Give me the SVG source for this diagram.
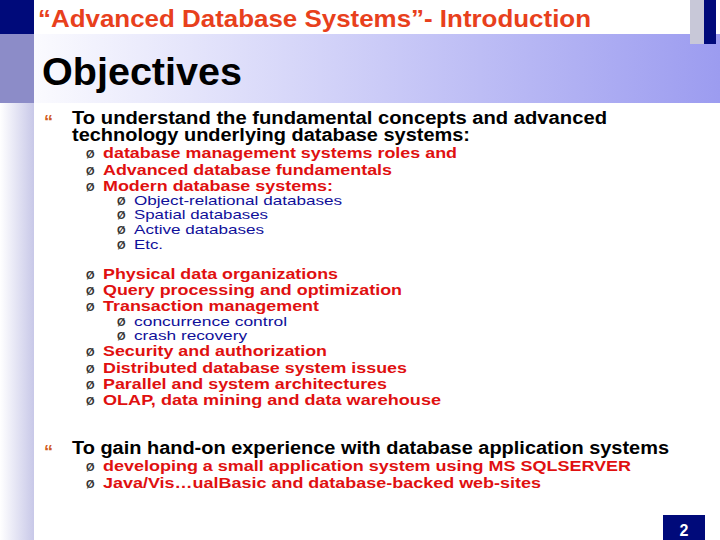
<svg xmlns="http://www.w3.org/2000/svg" width="720" height="540" viewBox="0 0 720 540">
<defs>
<linearGradient id="band" x1="0" x2="1" y1="0" y2="0"><stop offset="0" stop-color="#ffffff"/><stop offset="1" stop-color="#9c9cf0"/></linearGradient>
<linearGradient id="side" x1="0" x2="1" y1="0" y2="0"><stop offset="0" stop-color="#ffffff"/><stop offset="1" stop-color="#c8c8e8"/></linearGradient>
<style>
text{font-family:"Liberation Sans",Arial,sans-serif;font-weight:bold}
.t1{font-size:18px;fill:#000}
.r{font-size:15px;fill:#e01010}
.b{font-size:13px;fill:#10109a;font-weight:normal}
.q{font-size:18px;fill:#d05a20}
.bl{font-size:11px;fill:#333;font-weight:normal}
</style>
</defs>
<rect width="720" height="540" fill="#fff"/>
<rect x="0" y="0" width="34" height="540" fill="url(#side)"/>
<rect x="0" y="34" width="720" height="69" fill="url(#band)"/>
<rect x="0" y="0" width="34" height="34" fill="#000a7a"/>
<rect x="0" y="34" width="34" height="69" fill="#8c8cc8"/>
<rect x="690" y="0" width="14" height="44" fill="#c8c8d8"/>
<rect x="704" y="0" width="12" height="44" fill="#000a7a"/>
<g id="title"><text x="38" y="27" font-size="24" fill="#e8401c" textLength="553" lengthAdjust="spacingAndGlyphs">“Advanced Database Systems”- Introduction</text></g>
<g id="heading"><text x="42" y="85" font-size="38" fill="#000" textLength="200" lengthAdjust="spacingAndGlyphs">Objectives</text></g>
<g id="body">
<text class="q" x="44" y="128">“</text>
<text class="t1" x="72" y="124" textLength="535" lengthAdjust="spacingAndGlyphs">To understand the fundamental concepts  and advanced</text>
<text class="t1" x="72" y="141" textLength="398" lengthAdjust="spacingAndGlyphs">technology underlying database systems:</text>
<g class="bl"><text x="86" y="158">Ø</text><text x="86" y="175">Ø</text><text x="86" y="191">Ø</text>
<text x="117" y="205">Ø</text><text x="117" y="219">Ø</text><text x="117" y="234">Ø</text><text x="117" y="249">Ø</text>
<text x="86" y="279">Ø</text><text x="86" y="295">Ø</text><text x="86" y="311">Ø</text>
<text x="117" y="326">Ø</text><text x="117" y="340">Ø</text>
<text x="86" y="356">Ø</text><text x="86" y="373">Ø</text><text x="86" y="389">Ø</text><text x="86" y="405">Ø</text>
<text x="86" y="471">Ø</text><text x="86" y="488">Ø</text></g>
<text class="r" x="103" y="158" textLength="354" lengthAdjust="spacingAndGlyphs">database management systems roles and</text>
<text class="r" x="103" y="175" textLength="289" lengthAdjust="spacingAndGlyphs">Advanced database fundamentals</text>
<text class="r" x="103" y="191" textLength="230" lengthAdjust="spacingAndGlyphs">Modern database systems:</text>
<text class="b" x="134" y="205" textLength="208" lengthAdjust="spacingAndGlyphs">Object-relational databases</text>
<text class="b" x="134" y="219" textLength="134" lengthAdjust="spacingAndGlyphs">Spatial databases</text>
<text class="b" x="134" y="234" textLength="130" lengthAdjust="spacingAndGlyphs">Active databases</text>
<text class="b" x="134" y="249" textLength="29" lengthAdjust="spacingAndGlyphs">Etc.</text>
<text class="r" x="103" y="279" textLength="235" lengthAdjust="spacingAndGlyphs">Physical data organizations</text>
<text class="r" x="103" y="295" textLength="299" lengthAdjust="spacingAndGlyphs">Query processing and optimization</text>
<text class="r" x="103" y="311" textLength="216" lengthAdjust="spacingAndGlyphs">Transaction management</text>
<text class="b" x="134" y="326" textLength="153" lengthAdjust="spacingAndGlyphs">concurrence control</text>
<text class="b" x="134" y="340" textLength="113" lengthAdjust="spacingAndGlyphs">crash recovery</text>
<text class="r" x="103" y="356" textLength="224" lengthAdjust="spacingAndGlyphs">Security and authorization</text>
<text class="r" x="103" y="373" textLength="304" lengthAdjust="spacingAndGlyphs">Distributed database system issues</text>
<text class="r" x="103" y="389" textLength="284" lengthAdjust="spacingAndGlyphs">Parallel and system architectures</text>
<text class="r" x="103" y="405" textLength="338" lengthAdjust="spacingAndGlyphs">OLAP, data mining and data warehouse</text>
<text class="q" x="44" y="458">“</text>
<text class="t1" x="72" y="454" textLength="597" lengthAdjust="spacingAndGlyphs">To gain hand-on experience with database application systems</text>
<text class="r" x="103" y="471" textLength="528" lengthAdjust="spacingAndGlyphs">developing a small application system using MS SQLSERVER</text>
<text class="r" x="103" y="488" textLength="438" lengthAdjust="spacingAndGlyphs">Java/Vis…ualBasic and database-backed web-sites</text>
</g>
<g id="page"><rect x="663" y="515" width="42" height="25" fill="#000a7a"/><text x="684" y="536" font-size="16" fill="#fff" text-anchor="middle">2</text></g>
</svg>
